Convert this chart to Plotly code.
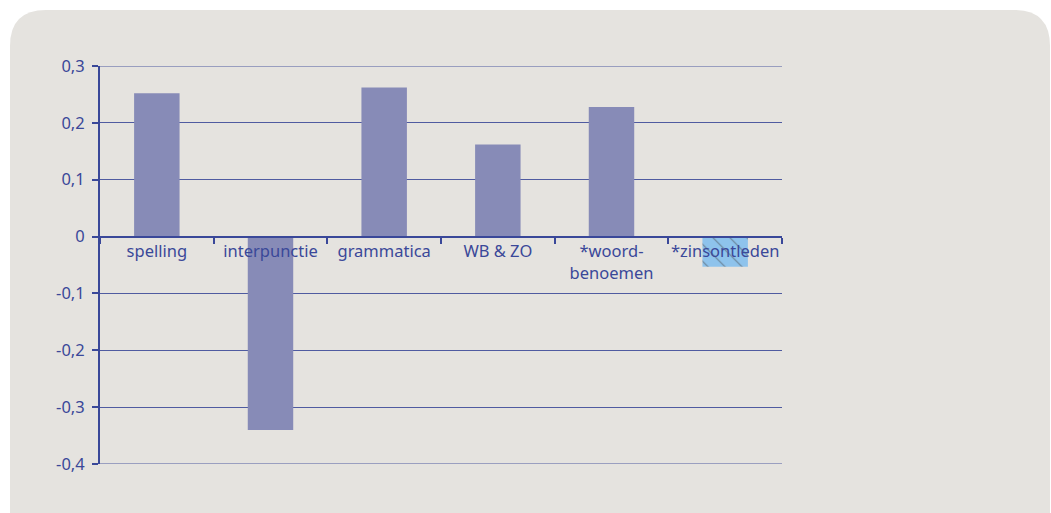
import plotly.graph_objects as go

categories = ["spelling", "interpunctie", "grammatica", "WB & ZO", "*woord-<br>benoemen", "*zinsontleden"]
values = [0.252, -0.34, 0.262, 0.162, 0.228, -0.053]
hatched = [False, False, False, False, False, True]
y_ticks = [0.3, 0.2, 0.1, 0, -0.1, -0.2, -0.3, -0.4]
y_labels = ["0,3", "0,2", "0,1", "0", "-0,1", "-0,2", "-0,3", "-0,4"]

W, H = 1051, 513
L, R, T, B = 100, 269, 66, 49
ymin, ymax = -0.4, 0.3

ink = "#3a4899"
grid = "#4f5ba0"
bar_fill = "#878bb7"
panel = "#e5e3df"

fig = go.Figure()
fig.add_trace(go.Bar(
    x=categories,
    y=values,
    width=0.4,
    marker=dict(
        color=["#8ec3ec" if h else bar_fill for h in hatched],
        line=dict(width=0),
        pattern=dict(
            shape=["\\" if h else "" for h in hatched],
            fgcolor="#4a68a8",
            bgcolor=["#8ec3ec" if h else bar_fill for h in hatched],
            size=12,
            solidity=0.1,
        ),
    ),
    hoverinfo="x+y",
))

# rounded background panel, expressed in paper coordinates
pw, ph = W - L - R, H - T - B
def px(x):
    return (x - L) / pw
def py(y):
    return (H - B - y) / ph

r = 36
x0, x1, y0, y1 = 10, 1050, 10, 520
path = (
    f"M {px(x0)},{py(y1)} L {px(x0)},{py(y0 + r)} "
    f"Q {px(x0)},{py(y0)} {px(x0 + r)},{py(y0)} "
    f"L {px(x1 - r)},{py(y0)} "
    f"Q {px(x1)},{py(y0)} {px(x1)},{py(y0 + r)} "
    f"L {px(x1)},{py(y1)} Z"
)
fig.add_shape(type="path", path=path, xref="paper", yref="paper",
              fillcolor=panel, line=dict(width=0), layer="below")

# grid lines at the two ends of the value range
for yv in (ymin, ymax):
    fig.add_shape(type="line", xref="paper", yref="y", x0=0, x1=1, y0=yv, y1=yv,
                  line=dict(color=grid, width=1), layer="below")

zero_pos = (0 - ymin) / (ymax - ymin)

fig.update_layout(
    width=W, height=H,
    margin=dict(l=L, r=R, t=T, b=B),
    paper_bgcolor="white",
    plot_bgcolor="rgba(0,0,0,0)",
    showlegend=False,
    font=dict(family="Noto Sans", size=16, color=ink),
    xaxis=dict(
        anchor="free", position=zero_pos,
        showline=True, linecolor=ink, linewidth=2,
        ticks="outside", ticklen=6, tickwidth=2, tickcolor=ink,
        tickson="boundaries", tickangle=0,
        showgrid=False,
        tickfont=dict(size=16.5, color=ink),
        fixedrange=True,
    ),
    yaxis=dict(
        range=[ymin, ymax],
        tickvals=y_ticks, ticktext=y_labels,
        showline=True, linecolor=ink, linewidth=2,
        ticks="outside", ticklen=6, tickwidth=2, tickcolor=ink,
        showgrid=True, gridcolor=grid, gridwidth=1,
        zeroline=False,
        tickfont=dict(size=16.5, color=ink),
        ticklabelstandoff=4,
    ),
)

fig.write_html("out.html")
